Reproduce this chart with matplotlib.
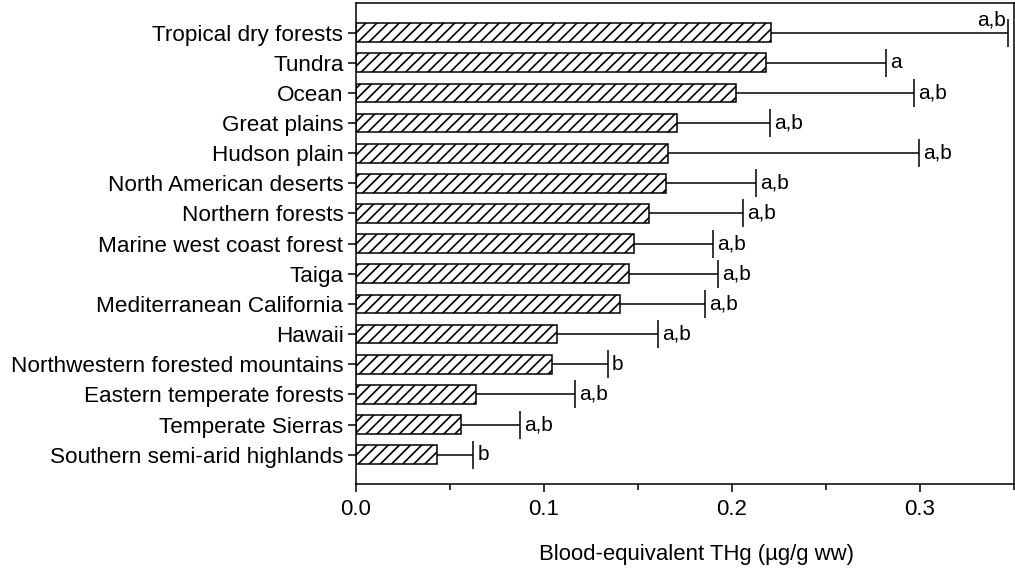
import matplotlib
matplotlib.use("Agg")
import matplotlib.pyplot as plt
import numpy as np

plt.rcParams['font.family'] = ['Liberation Sans', 'DejaVu Sans']
plt.rcParams['hatch.linewidth'] = 1.2

categories = [
    "Tropical dry forests", "Tundra", "Ocean", "Great plains", "Hudson plain",
    "North American deserts", "Northern forests", "Marine west coast forest",
    "Taiga", "Mediterranean California", "Hawaii",
    "Northwestern forested mountains", "Eastern temperate forests",
    "Temperate Sierras", "Southern semi-arid highlands",
]
means = [0.221, 0.218, 0.202, 0.171, 0.166, 0.165, 0.156, 0.148,
         0.145, 0.1405, 0.107, 0.104, 0.064, 0.056, 0.043]
upper = [0.347, 0.282, 0.297, 0.220, 0.2995, 0.213, 0.206, 0.190,
         0.1926, 0.1857, 0.1607, 0.134, 0.1165, 0.0872, 0.0625]
letters = ["a,b", "a", "a,b", "a,b", "a,b", "a,b", "a,b", "a,b",
           "a,b", "a,b", "a,b", "b", "a,b", "a,b", "b"]
xticks = [0.0, 0.1, 0.2, 0.3]
xlabel = "Blood-equivalent THg (µg/g ww)"

fig = plt.figure(figsize=(10.15, 5.8), dpi=100)
ax = fig.add_axes([356/1015, 1 - 484/580, (1014 - 356)/1015, (484 - 3)/580])

n = len(categories)
ypos = np.arange(n)[::-1]
means_a = np.array(means)
upper_a = np.array(upper)

ax.barh(ypos, means_a, height=0.62, color='white', edgecolor='black',
        linewidth=1.1, hatch='///', zorder=2)
eb = ax.errorbar(means_a, ypos, xerr=[np.zeros(n), upper_a - means_a], fmt='none',
                 ecolor='black', elinewidth=1.1, capsize=10, capthick=1.1, zorder=3)
# hide the caps at the lower (bar-end) side: only upper error shown
caplines = eb[1]
if len(caplines) >= 2:
    caplines[0].set_visible(False)

for i, (y, u, lab) in enumerate(zip(ypos, upper_a, letters)):
    if i == 0:
        ax.annotate(lab, (u, y), xytext=(-1.5, 2), textcoords='offset points',
                    ha='right', va='bottom', fontsize=15)
    else:
        ax.annotate(lab, (u, y), xytext=(3, 0), textcoords='offset points',
                    ha='left', va='center', fontsize=15)

ax.set_xlim(0, 0.35)
ax.set_ylim(-0.97, n - 1 + 0.98)
ax.set_yticks(ypos)
ax.set_yticklabels(categories, fontsize=16.2)
ax.set_xticks(xticks)
ax.set_xticklabels([f"{t:.1f}" for t in xticks], fontsize=16)
ax.set_xticks(np.arange(0.05, 0.36, 0.1), minor=True)
ax.tick_params(axis='x', which='major', direction='out', length=6, width=1.1, pad=5)
ax.tick_params(axis='x', which='minor', direction='out', length=4, width=1.1)
ax.tick_params(axis='y', direction='out', length=6, width=1.1, pad=3)
ax.set_xlabel(xlabel, fontsize=15.9)
ax.xaxis.set_label_coords(0.517, -0.125)
for s in ax.spines.values():
    s.set_linewidth(1.1)

fig.savefig("out.png", dpi=100)
